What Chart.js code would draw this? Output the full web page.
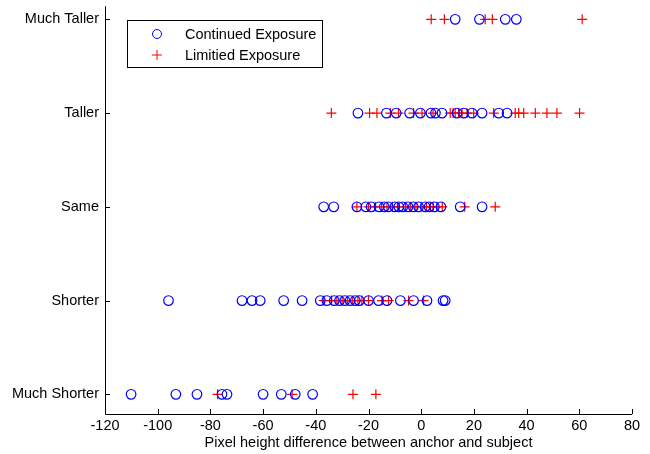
<!DOCTYPE html>
<html>
<head>
<meta charset="utf-8">
<script src="https://cdn.jsdelivr.net/npm/chart.js@4.4.1/dist/chart.umd.min.js"></script>
<style>
  html, body { margin: 0; padding: 0; background: #fff; }
  #wrap { width: 650px; height: 454px; }
</style>
</head>
<body>
<div id="wrap"><canvas id="c" width="650" height="454"></canvas></div>
<script>
// y categories, bottom to top
var categories = ['Much Shorter', 'Shorter', 'Same', 'Taller', 'Much Taller'];
var xTicks = [-120, -100, -80, -60, -40, -20, 0, 20, 40, 60, 80];

// pixel height difference, one list per category (same order as categories)
var continued = [
  [-110.1, -93.1, -85.1, -75.6, -73.7, -60, -53.1, -47.8, -41.2],
  [-95.9, -68, -64.2, -61.1, -52.2, -45.2, -38.3, -35.8, -33, -31, -29, -27, -25, -23.5, -20, -16.2, -13, -7.9, -2.9, 2.2, 8.3, 9.1],
  [-37, -33.2, -24.4, -21, -19, -16, -14, -12.5, -10, -8.5, -7, -5, -3, -1, 1.5, 3, 5, 7.5, 14.8, 23.1],
  [-24, -13.2, -9.5, -4.4, -0.3, 3.7, 5.4, 7.9, 13.6, 16.1, 19.3, 23.1, 29.4, 32.6],
  [12.9, 22.1, 31.9, 36.1]
];
var limited = [
  [-77.3, -49, -25.9, -17.2],
  [-37, -34, -32, -30, -28, -26, -24, -22.5, -20, -14.9, -12.4, -4.8, 0.9],
  [-24.4, -20, -17.5, -15, -13, -11, -9, -6, -4, -2, 0, 2, 3.5, 4.5, 6, 8, 16.5, 28.1],
  [-34.1, -19.6, -16.8, -11.7, -8.6, -2.9, 0.3, 4.5, 11, 12.1, 12.9, 14.2, 15.5, 17.4, 19.9, 27.5, 35.7, 37, 38.9, 43.3, 47.7, 51.5, 60.1],
  [3.8, 8.8, 24.3, 27, 61.1]
];

function toPoints(lists) {
  var pts = [];
  for (var i = 0; i < lists.length; i++) {
    for (var j = 0; j < lists[i].length; j++) {
      pts.push({ x: lists[i][j], y: i });
    }
  }
  return pts;
}

var FONT = '"Liberation Sans", Arial, sans-serif';
var FS = 14.5;

// matlab style axes: left + bottom lines, ticks pointing inward, legend box
var axesPlugin = {
  id: 'axesPlugin',
  afterDraw: function (chart) {
    var ctx = chart.ctx;
    var a = chart.chartArea;
    var xs = chart.scales.x, ys = chart.scales.y;
    ctx.save();
    ctx.strokeStyle = '#000';
    ctx.lineWidth = 1;
    ctx.beginPath();
    ctx.moveTo(a.left + 0.5, a.top);
    ctx.lineTo(a.left + 0.5, a.bottom + 0.5);
    ctx.lineTo(a.right, a.bottom + 0.5);
    xs.ticks.forEach(function (t) {
      var px = Math.round(xs.getPixelForValue(t.value)) + 0.5;
      ctx.moveTo(px, a.bottom);
      ctx.lineTo(px, a.bottom - 5);
    });
    ys.ticks.forEach(function (t) {
      var py = Math.round(ys.getPixelForValue(t.value)) + 0.5;
      ctx.moveTo(a.left, py);
      ctx.lineTo(a.left + 5, py);
    });
    ctx.stroke();

    // legend
    var lx = a.left + 22, ly = 20, lw = 195, lh = 47;
    ctx.fillStyle = '#fff';
    ctx.fillRect(lx, ly, lw, lh);
    ctx.strokeRect(lx + 0.5, ly + 0.5, lw, lh);
    var ds = chart.data.datasets;
    ctx.font = FS + 'px ' + FONT;
    ctx.textBaseline = 'middle';
    for (var i = 0; i < ds.length; i++) {
      var cy = ly + 14 + i * 21;
      var cx = lx + 30;
      ctx.strokeStyle = ds[i].borderColor;
      ctx.lineWidth = 1;
      ctx.beginPath();
      if (ds[i].pointStyle === 'circle') {
        ctx.arc(cx, cy, 4.5, 0, Math.PI * 2);
      } else {
        ctx.moveTo(cx - 5, cy); ctx.lineTo(cx + 5, cy);
        ctx.moveTo(cx, cy - 5); ctx.lineTo(cx, cy + 5);
      }
      ctx.stroke();
      ctx.fillStyle = '#000';
      ctx.fillText(ds[i].label, lx + 58, cy + 1);
    }
    ctx.restore();
  }
};

new Chart(document.getElementById('c'), {
  type: 'scatter',
  data: {
    datasets: [
      {
        label: 'Continued Exposure',
        data: toPoints(continued),
        pointStyle: 'circle',
        pointRadius: 4.8,
        pointHoverRadius: 4.8,
        borderColor: '#0000ff',
        backgroundColor: 'rgba(0,0,0,0)',
        borderWidth: 1.2
      },
      {
        label: 'Limitied Exposure',
        data: toPoints(limited),
        pointStyle: 'cross',
        pointRadius: 5,
        pointHoverRadius: 5,
        borderColor: '#ff0000',
        backgroundColor: '#ff0000',
        borderWidth: 1.2
      }
    ]
  },
  options: {
    responsive: false,
    animation: false,
    layout: { padding: { top: 6, right: 18, bottom: 0, left: 0 } },
    plugins: {
      legend: { display: false },
      tooltip: { enabled: false }
    },
    scales: {
      x: {
        type: 'linear',
        min: -120,
        max: 80,
        afterBuildTicks: function (scale) {
          scale.ticks = xTicks.map(function (v) { return { value: v }; });
        },
        afterFit: function (scale) { scale.height = 40; },
        grid: { display: false, drawTicks: false, tickLength: 0 },
        border: { display: false },
        ticks: { color: '#000', font: { family: FONT, size: FS }, padding: 3, maxRotation: 0 },
        title: {
          display: true,
          text: 'Pixel height difference between anchor and subject',
          color: '#000',
          font: { family: FONT, size: FS },
          padding: { top: 0, bottom: 2 }
        }
      },
      y: {
        type: 'linear',
        min: -0.21,
        max: 4.14,
        afterBuildTicks: function (scale) {
          scale.ticks = categories.map(function (c, i) { return { value: i }; });
        },
        afterFit: function (scale) {
          scale.width = 105;
          scale.paddingTop = 0;
          scale.paddingBottom = 0;
        },
        grid: { display: false, drawTicks: false, tickLength: 0 },
        border: { display: false },
        ticks: {
          color: '#000',
          font: { family: FONT, size: FS },
          padding: 6,
          callback: function (v) { return categories[v]; }
        }
      }
    }
  },
  plugins: [axesPlugin]
});
</script>
</body>
</html>
